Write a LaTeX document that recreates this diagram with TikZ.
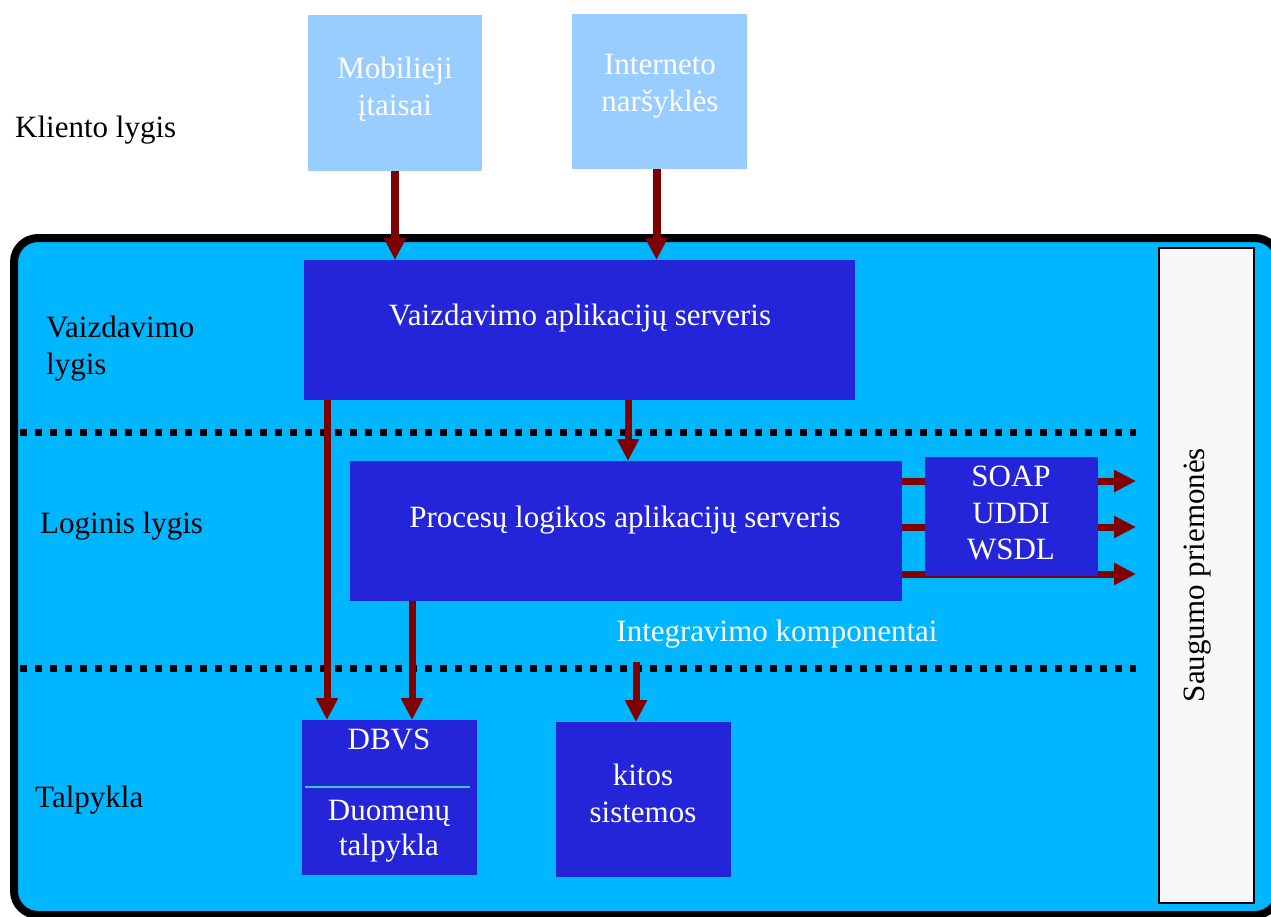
\documentclass[tikz,border=0pt]{standalone}
\usepackage{fontspec}
\setmainfont{Liberation Serif}
\usetikzlibrary{arrows.meta}
\definecolor{clientfill}{HTML}{99CCFF}
\definecolor{tierfill}{HTML}{00B7FF}
\definecolor{srvfill}{HTML}{2424D8}
\definecolor{arrowred}{HTML}{7F0000}
\definecolor{sepline}{HTML}{33CCCC}
\definecolor{secfill}{HTML}{F7F7F7}
\tikzset{
  basefont/.style={font=\fontsize{31}{37}\selectfont},
  clientbox/.style={rectangle, fill=clientfill, draw=none, inner sep=0pt, outer sep=0pt, anchor=north west},
  srvbox/.style={rectangle, fill=srvfill, draw=none, inner sep=0pt, outer sep=0pt, anchor=north west},
  wtext/.style={basefont, text=white, align=center, inner sep=0pt},
  ktext/.style={basefont, text=black, align=left, inner sep=0pt, anchor=west},
  flow/.style={draw=arrowred, line width=8pt, -{Triangle[width=21pt,length=22pt]}},
  flowthin/.style={draw=arrowred, line width=7pt, -{Triangle[width=21pt,length=22pt]}},
  tierline/.style={line width=7pt, dash pattern=on 7pt off 8pt}
}
\begin{document}
\begin{tikzpicture}[x=1pt,y=-1pt]
\useasboundingbox (0,0) rectangle (1271,916);

% enterprise tiers frame
\draw[line width=8pt, fill=tierfill, rounded corners=24pt] (14,238) rectangle (1279,915);

% tier separators
\draw[tierline] (20,432) -- (1136,432);
\draw[tierline] (20,668) -- (1136,668);

% tier labels
\node[ktext] (lclient) at (15,130) {Kliento lygis};
\node[ktext, align=left] (lpres) at (46,349) {Vaizdavimo\\lygis};
\node[ktext] (llogic) at (40,526) {Loginis lygis};
\node[ktext] (lstore) at (35,800) {Talpykla};

% client devices
\node[clientbox, minimum width=174pt, minimum height=156pt] (mob) at (308,15) {};
\node[wtext] (mobt) at (395,89) {Mobilieji\\įtaisai};
\node[clientbox, minimum width=175pt, minimum height=155pt] (inet) at (572,14) {};
\node[wtext] (inett) at (660,86) {Interneto\\naršyklės};

% servers
\node[srvbox, minimum width=551pt, minimum height=140pt] (vas) at (304,260) {};
\node[wtext] (vast) at (580,318) {Vaizdavimo aplikacijų serveris};
\node[srvbox, minimum width=552pt, minimum height=140pt] (proc) at (350,461) {};
\node[wtext] (proct) at (625,520) {Procesų logikos aplikacijų serveris};

% outgoing service interfaces (drawn below the SOAP box)
\coordinate (o1) at ([yshift=-20pt]proc.north east);
\coordinate (o2) at ([yshift=-66pt]proc.north east);
\coordinate (o3) at ([yshift=-113pt]proc.north east);
\coordinate (e1) at (1136,481);
\coordinate (e2) at (1136,527);
\coordinate (e3) at (1136,574);
\draw[flowthin] (o1) -- (e1);
\draw[flowthin] (o2) -- (e2);
\draw[flowthin] (o3) -- (e3);

\node[srvbox, minimum width=173pt, minimum height=119pt] (soap) at (925,457) {};
\node[wtext, font=\fontsize{31}{36.5}\selectfont] (soapt) at (1011,513) {SOAP\\UDDI\\WSDL};

\node[wtext] (intg) at (777,634) {Integravimo komponentai};

% storage
\node[srvbox, minimum width=175pt, minimum height=155pt] (dbvs) at (302,720) {};
\node[wtext] (dbvst) at (389,739) {DBVS};
\draw[sepline, line width=2pt] (305,787) -- (470,787);
\node[wtext, font=\fontsize{31}{35}\selectfont] (storet) at (389,831) {Duomenų\\talpykla};
\node[srvbox, minimum width=175pt, minimum height=155pt] (kitos) at (556,722) {};
\node[wtext] (kitost) at (643,793) {kitos\\sistemos};

% security
\node[rectangle, draw=black, line width=1.5pt, fill=secfill, anchor=north west,
      minimum width=95pt, minimum height=655pt, inner sep=0pt] (sec) at (1158,247) {};
\node[basefont, rotate=90, inner sep=0pt] (sect) at (1198,575) {Saugumo priemonės};

% connectors
\draw[flow] (mob.south) -- (mob.south |- vas.north);
\draw[flow] ([xshift=-3pt]inet.south) -- ([xshift=-3pt]inet.south |- vas.north);

\coordinate (v1) at ([xshift=23pt]vas.south west);
\coordinate (v2) at ([xshift=324pt]vas.south west);
\coordinate (p1) at ([xshift=62pt]proc.south west);
\coordinate (ic) at (636,662);
\draw[flowthin] (v1) -- (v1 |- dbvs.north);
\draw[flowthin] (v2) -- (v2 |- proc.north);
\draw[flowthin] (p1) -- (p1 |- dbvs.north);
\draw[flowthin] (ic) -- (ic |- kitos.north);
\end{tikzpicture}
\end{document}
